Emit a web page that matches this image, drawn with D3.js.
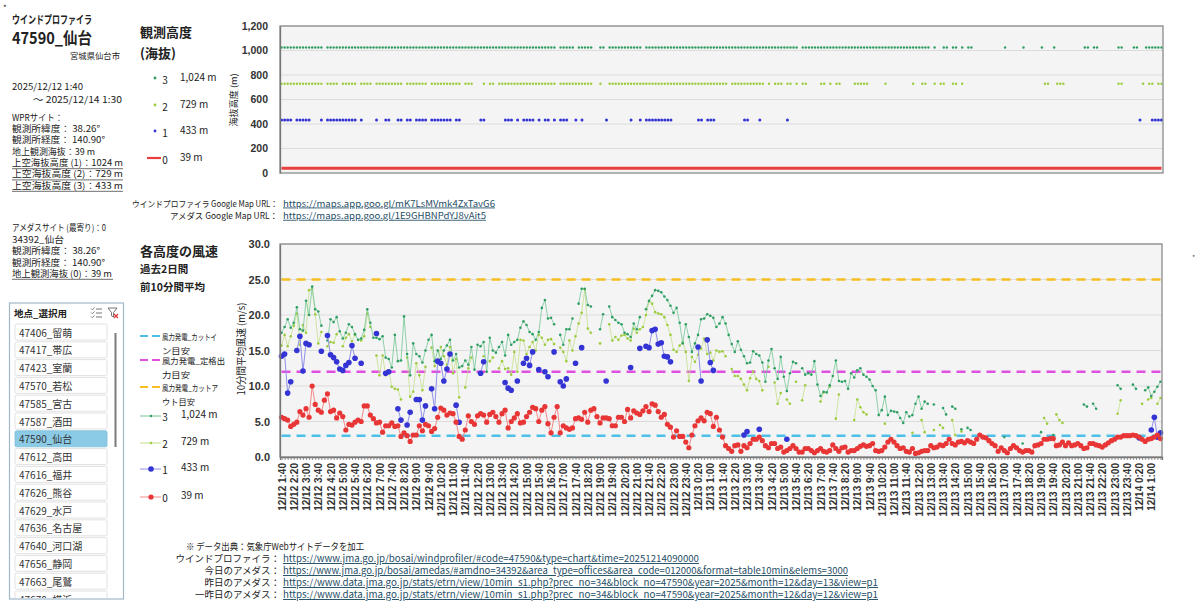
<!DOCTYPE html>
<html>
<head>
<meta charset="utf-8">
<script src="https://cdn.jsdelivr.net/npm/d3@7"></script>
<style>
body { margin: 0; background: #fff; }
svg { font-family: "Noto Sans CJK JP", "Noto Sans", sans-serif; }
</style>
</head>
<body>
<svg id="chart" width="1200" height="612"></svg>
<script>
var _ = null;

// 観測期間: 12/12 1:40 から10分毎
var startTime = [2025, 12, 12, 1, 40];

// 各高度の前10分間平均風速 (m/s)
var wind39 = [
5.6,5.4,5.2,4.3,4.6,4.9,6.4,5.9,6.8,5.6,
10.0,7.4,6.6,6.3,8.0,8.9,6.4,6.6,5.5,6.2,
5.7,3.8,4.6,4.5,4.9,5.2,5.0,7.2,7.2,5.9,
5.4,4.8,4.9,3.5,4.4,4.4,4.8,4.3,4.4,2.9,
3.4,3.0,2.2,3.1,3.1,4.4,3.7,4.6,4.4,3.6,
4.0,5.6,6.9,6.6,5.9,6.2,6.1,4.9,2.9,2.5,
3.8,5.8,5.0,4.6,5.8,6.1,5.9,4.9,6.0,6.3,
5.7,4.9,6.1,6.6,4.1,5.0,5.5,6.1,4.8,4.9,
5.7,6.3,7.0,6.8,5.0,6.6,7.1,4.7,3.4,5.6,
7.1,3.4,4.4,4.1,3.9,4.1,5.4,5.5,5.3,6.3,
4.9,6.6,6.8,5.7,4.8,5.5,5.5,5.4,4.4,4.4,
5.6,5.6,5.0,6.7,5.5,6.5,6.2,6.0,6.5,7.1,
6.4,7.5,7.3,6.4,5.6,6.0,4.6,4.2,2.8,3.7,
2.9,2.9,2.1,1.3,3.1,4.4,5.1,5.5,5.1,6.3,
6.1,4.3,5.6,3.8,2.8,1.6,1.2,0.8,1.6,1.7,
0.8,1.6,1.3,1.9,2.5,2.5,2.8,2.3,1.6,1.3,
1.9,1.9,1.2,1.4,0.7,0.9,1.2,1.6,1.2,0.7,
0.7,1.2,1.2,0.9,0.6,0.9,1.2,0.8,0.7,0.9,
1.7,1.2,0.8,1.3,1.4,0.7,0.9,0.9,1.2,1.5,
1.7,1.5,1.6,1.9,0.9,0.8,0.9,1.4,2.1,2.5,
2.1,1.6,1.2,1.3,0.8,0.7,1.2,0.5,0.6,0.8,
0.9,0.9,1.6,1.3,1.4,1.7,1.6,1.9,2.5,1.9,
1.7,2.1,2.2,2.0,2.3,2.1,1.9,2.5,3.1,2.8,
2.7,2.3,1.9,1.6,0.8,1.3,0.9,0.6,1.2,1.6,
1.3,0.9,0.7,0.9,0.9,0.7,1.6,1.7,1.9,2.5,
2.5,2.6,2.6,1.6,1.7,2.1,1.6,2.0,1.6,1.7,
1.9,1.6,1.2,1.3,1.9,1.9,1.7,1.6,1.4,1.7,
2.0,2.3,2.5,2.8,2.8,3.0,3.0,3.0,3.1,3.0,
2.8,2.5,2.2,2.5,2.6,2.8,3.1,2.6
];

var wind433 = [
14.2,14.5,9.0,10.6,_,15.0,17.0,12.1,16.0,15.8,
_,_,_,14.9,_,17.1,14.4,14.0,13.4,12.4,
12.2,12.9,13.3,15.7,13.9,_,13.2,_,_,_,
_,17.4,_,_,11.8,12.0,_,_,6.8,5.2,
_,4.5,6.3,_,8.1,8.1,5.2,7.2,_,9.6,
6.8,13.5,13.2,10.7,12.4,14.5,_,7.3,4.9,_,
_,_,_,_,_,11.8,13.4,_,_,_,
_,_,_,10.5,9.7,9.4,_,10.7,_,13.2,
13.9,12.9,14.8,_,12.3,_,12.0,11.3,_,14.8,
_,10.6,10.0,11.0,_,_,13.2,_,15.4,_,
_,_,_,_,_,_,10.7,_,_,_,
_,_,_,_,12.6,_,_,15.3,_,15.6,
15.4,17.8,18.0,15.9,16.1,14.2,14.1,13.4,_,_,
_,_,_,_,_,_,15.5,10.7,_,16.5,
13.3,12.2,_,_,_,_,_,_,_,_,
_,3.1,3.6,_,_,_,3.9,_,_,_,
_,_,_,_,_,2.5,_,_,_,_,
_,_,_,_,_,_,_,_,_,_,
_,_,_,_,_,_,_,_,_,_,
_,_,_,_,_,_,_,_,_,_,
_,_,_,_,_,_,_,_,_,_,
_,_,_,_,_,_,_,_,_,_,
_,_,_,_,_,_,_,_,_,_,
_,_,_,_,_,_,_,_,_,_,
_,_,_,_,_,_,_,_,_,_,
_,_,_,_,_,_,_,_,_,_,
_,_,_,_,_,_,_,_,_,_,
_,_,_,_,_,_,_,_,_,_,
2.7,_,_,_,3.8,5.6,2.8,3.4
];

var wind729 = [
15.7,17.2,15.6,17.0,18.5,20.2,15.8,18.6,17.5,23.5,
23.7,20.1,16.0,17.6,_,15.6,16.2,16.1,17.3,_,
15.6,16.8,17.3,16.3,17.2,_,16.4,17.0,20.2,18.3,
_,14.3,11.5,14.3,11.5,12.2,9.9,9.6,9.5,8.1,
_,14.0,8.5,9.2,13.2,11.5,9.4,12.7,_,15.4,
12.8,13.5,15.5,14.2,13.0,15.5,11.8,13.8,8.4,_,
9.8,12.5,14.0,_,_,_,14.2,_,13.5,14.0,
_,12.5,13.5,12.4,12.5,11.6,14.8,12.0,16.5,16.4,
14.5,15.5,16.2,15.0,17.2,16.8,15.8,16.5,16.6,15.9,
_,15.4,14.8,13.5,16.4,15.0,17.0,18.8,20.3,23.6,
18.1,17.5,_,_,16.0,_,_,18.7,16.4,16.9,
16.5,17.1,17.2,16.7,16.4,18.1,17.5,18.0,18.3,20.0,
21.9,21.6,20.4,20.2,20.1,19.7,18.6,17.2,15.1,14.8,
15.7,16.2,14.8,10.7,14.1,13.4,14.4,15.3,16.7,14.5,
14.7,13.6,15.0,14.8,14.9,14.2,_,12.4,11.4,11.4,
11.0,10.2,9.4,11.1,12.0,11.0,10.7,9.4,_,12.7,
_,10.5,7.5,9.0,_,8.1,7.5,_,10.6,_,
8.0,10.1,_,_,_,_,7.8,9.1,_,9.9,
_,5.4,8.8,_,_,_,_,5.2,8.1,7.0,
6.3,6.0,_,_,_,_,_,4.7,_,_,
_,_,_,_,_,_,3.4,_,_,5.2,
3.5,_,_,3.8,_,4.5,4.1,_,_,5.2,
3.1,_,3.6,_,_,_,_,_,_,_,
_,_,_,_,_,_,_,_,_,_,
_,_,_,_,_,_,_,_,_,5.5,
4.7,_,_,6.0,5.2,4.8,_,_,_,_,
_,_,_,_,_,_,_,_,_,_,
_,_,_,6.1,8.0,_,_,_,_,_,
_,7.5,_,8.1,8.3,_,7.5,8.3
];

var wind1024 = [
17.5,18.3,19.4,18.2,18.9,21.1,18.0,17.8,22.0,20.0,
24.0,20.8,20.5,18.5,_,16.4,19.4,19.0,19.7,17.7,
16.7,17.5,18.7,18.3,17.3,16.5,16.7,17.9,20.8,18.9,
16.8,16.8,16.6,17.0,14.0,13.8,12.6,17.2,13.5,13.6,
19.8,14.5,11.5,16.0,14.5,14.2,13.3,15.0,16.5,17.2,
13.5,15.0,13.8,15.0,15.7,16.5,13.6,14.5,12.6,12.8,
13.6,13.0,15.5,12.3,15.8,15.6,16.2,12.0,16.8,15.0,
14.7,15.5,16.2,14.3,17.2,15.8,16.2,16.5,18.2,19.1,
18.6,17.6,17.3,16.5,17.6,21.0,22.1,19.5,19.6,18.7,
_,17.2,15.8,18.0,18.0,19.5,_,21.6,23.7,23.7,
21.4,21.2,_,_,18.0,20.1,_,21.2,19.7,19.3,
18.9,18.7,17.5,17.3,16.9,18.8,18.0,19.7,_,20.8,
22.0,22.7,23.5,23.4,23.2,22.6,22.1,21.3,20.3,21.0,
18.9,16.0,18.7,16.9,14.8,16.0,17.2,19.4,19.5,20.1,
19.9,19.6,18.3,18.8,19.7,18.8,17.2,15.9,14.8,16.3,
15.1,14.2,13.2,13.3,14.9,14.5,14.3,13.3,10.6,13.6,
15.2,12.5,11.0,14.1,11.3,9.3,11.8,13.4,13.2,_,
12.5,11.6,11.8,11.6,13.5,10.2,8.6,9.2,9.1,10.1,
11.4,13.6,10.7,10.6,10.7,9.6,11.8,11.2,12.2,12.5,
11.6,11.3,10.9,10.0,9.4,5.9,6.6,8.5,5.9,6.5,
6.4,6.3,5.5,4.8,6.3,5.7,5.9,7.5,8.5,6.8,
7.8,7.5,_,7.4,_,_,6.9,6.0,_,7.1,
6.8,_,3.9,_,4.1,3.8,_,_,_,_,
_,_,_,_,_,_,2.8,_,_,_,
_,_,1.9,_,_,_,_,_,3.5,_,
_,_,3.1,_,_,_,_,_,_,_,
_,_,7.4,7.1,_,7.5,6.8,_,_,_,
_,_,_,10.1,9.6,_,_,_,10.2,9.6,
_,_,9.4,9.8,8.6,9.2,9.9,10.6
];

// 観測高度 (海抜 m)
var heightNames = ["3", "2", "1", "0"];
var heights = [1024, 729, 433, 39];

// 風力発電の目安 (m/s)
var refLabels = [["風力発電_カットイ", "ン目安"], ["風力発電_定格出", "力目安"], ["風力発電_カットア", "ウト目安"]];
var refValues = [3, 12, 25];

var stations = ["47406_留萌", "47417_帯広", "47423_室蘭", "47570_若松", "47585_宮古", "47587_酒田", "47590_仙台",
  "47612_高田", "47616_福井", "47626_熊谷", "47629_水戸", "47636_名古屋", "47640_河口湖", "47656_静岡", "47663_尾鷲", "47670_横浜"];
var selectedStation = "47590_仙台";

var siteInfo = ["WPRサイト：", "観測所緯度： 38.26°", "観測所経度： 140.90°", "地上観測海抜：39 m",
  "上空海抜高度 (1)：1024 m", "上空海抜高度 (2)：729 m", "上空海抜高度 (3)：433 m"];
var amedasInfo = ["アメダスサイト (最寄り)：0", "34392_仙台", "観測所緯度： 38.26°", "観測所経度： 140.90°", "地上観測海抜 (0)：39 m"];

var mapLabels = ["ウインドプロファイラ Google Map URL：", "アメダス Google Map URL："];
var mapUrls = ["https://maps.app.goo.gl/mK7LsMVmk4ZxTavG6", "https://maps.app.goo.gl/1E9GHBNPdYJ8vAit5"];

var sourceLabels = ["ウインドプロファイラ：", "今日のアメダス：", "昨日のアメダス：", "一昨日のアメダス："];
var sourceUrls = [
  "https://www.jma.go.jp/bosai/windprofiler/#code=47590&type=chart&time=20251214090000",
  "https://www.jma.go.jp/bosai/amedas/#amdno=34392&area_type=offices&area_code=012000&format=table10min&elems=3000",
  "https://www.data.jma.go.jp/stats/etrn/view/10min_s1.php?prec_no=34&block_no=47590&year=2025&month=12&day=13&view=p1",
  "https://www.data.jma.go.jp/stats/etrn/view/10min_s1.php?prec_no=34&block_no=47590&year=2025&month=12&day=12&view=p1"
];

var svg = d3.select("#chart");
var NUM = '"Liberation Sans", Arial, sans-serif';

function txt(x, y, s, o) {
  o = o || {};
  var t = svg.append("text").attr("x", x).attr("y", y).text(s)
    .attr("dominant-baseline", "central")
    .attr("font-size", o.size || 9.5)
    .attr("fill", o.fill || "#222");
  if (o.bold) t.attr("font-weight", "bold");
  if (o.anchor) t.attr("text-anchor", o.anchor);
  if (o.w) t.attr("textLength", o.w).attr("lengthAdjust", "spacingAndGlyphs");
  if (o.family) t.attr("font-family", o.family);
  if (o.under) t.attr("text-decoration", "underline");
  return t;
}

// 時刻カテゴリ
var t0 = new Date(startTime[0], startTime[1] - 1, startTime[2], startTime[3], startTime[4]);
var times = wind39.map(function(d, i) { return new Date(t0.getTime() + i * 600000); });
var fmtTime = function(d) {
  return (d.getMonth() + 1) + "/" + d.getDate() + " " + d.getHours() + ":" + String(d.getMinutes()).padStart(2, "0");
};
var idx = d3.range(wind39.length);

var series = [
  {v: wind729, line: "#c4df8a", dot: "#9ccb3e", r: 1.3, lw: 0.8},
  {v: wind1024, line: "#72c796", dot: "#2f9e62", r: 1.3, lw: 0.8},
  {v: wind433, line: "#9090ea", dot: "#3434d4", r: 2.8, lw: 1},
  {v: wind39, line: "#f28a8a", dot: "#e83636", r: 2.6, lw: 1}
];
// heights順 (3,2,1,0) → series 参照
var byHeight = [series[1], series[0], series[2], series[3]];
var refColors = ["#4dc0e8", "#e050e0", "#f6be22"];

// ---------- 左サイドバー ----------
txt(3, 7, "*", {size: 8});
txt(12, 19, "ウインドプロファイラ", {size: 11, bold: true, w: 80});
txt(12, 37, "47590_仙台", {size: 16, bold: true, w: 80});
txt(120, 55, "宮城県仙台市", {size: 8.5, anchor: "end", w: 50});
txt(12, 86.5, "2025/12/12 1:40", {size: 9, w: 71});
txt(33, 99, "～ 2025/12/14 1:30", {size: 9, w: 89});

var infoY = [117.5, 128.5, 139.5, 151, 162.3, 173.5, 185];
var infoW = [51, 88, 93, 83, 111, 111, 111];
siteInfo.forEach(function(s, i) {
  txt(12, infoY[i], s, {size: 9, w: infoW[i]});
  if (i >= 4) {
    svg.append("line").attr("x1", 12).attr("x2", 123).attr("y1", infoY[i] + 6.3).attr("y2", infoY[i] + 6.3)
      .attr("stroke", "#8a8a8a").attr("stroke-width", 1.3);
  }
});
var amY = [227, 239, 250, 262, 273];
var amW = [94, 52, 88, 93, 100];
amedasInfo.forEach(function(s, i) {
  txt(12, amY[i], s, {size: 9, w: amW[i]});
  if (i === 4) {
    svg.append("line").attr("x1", 12).attr("x2", 113).attr("y1", amY[i] + 6.3).attr("y2", amY[i] + 6.3)
      .attr("stroke", "#8a8a8a").attr("stroke-width", 1.3);
  }
});

// スライサー
svg.append("rect").attr("x", 9.5).attr("y", 303).attr("width", 114).attr("height", 296)
  .attr("fill", "#fff").attr("stroke", "#9fb8c8").attr("stroke-width", 1.2);
txt(14, 313, "地点_選択用", {size: 9.5, bold: true});
[309, 313, 317].forEach(function(y) {
  svg.append("line").attr("x1", 96).attr("x2", 102).attr("y1", y).attr("y2", y).attr("stroke", "#666").attr("stroke-width", 0.9);
  svg.append("path").attr("d", "M91," + (y - 0.5) + " l1.3,1.3 l2.2,-2.4").attr("fill", "none").attr("stroke", "#666").attr("stroke-width", 0.8);
});
svg.append("path").attr("d", "M108,308 h9 l-3.5,4.5 v4.5 l-2,-1.2 v-3.3 z").attr("fill", "none").attr("stroke", "#666").attr("stroke-width", 0.9);
svg.append("path").attr("d", "M114,314 l4,4 M118,314 l-4,4").attr("stroke", "#d33").attr("stroke-width", 1.1);

svg.append("clipPath").attr("id", "slicerClip").append("rect").attr("x", 10).attr("y", 304).attr("width", 112).attr("height", 294);
var slicer = svg.append("g").attr("clip-path", "url(#slicerClip)");
stations.forEach(function(s, i) {
  var cy = 332 + i * 17.8;
  var sel = s === selectedStation;
  slicer.append("rect").attr("x", 15).attr("y", cy - 8).attr("width", 92).attr("height", 16).attr("rx", 1.5)
    .attr("fill", sel ? "#8ccbe6" : "#fff").attr("stroke", sel ? "#7bbcd8" : "#d9d9d9").attr("stroke-width", 0.8);
  slicer.append("text").attr("x", 19).attr("y", cy).attr("dominant-baseline", "central")
    .attr("font-size", 10).attr("fill", "#333").text(s);
});
svg.append("line").attr("x1", 115.5).attr("x2", 115.5).attr("y1", 333).attr("y2", 447)
  .attr("stroke", "#7a7a7a").attr("stroke-width", 2);

// ---------- 観測高度 (上段) ----------
txt(140, 31, "観測高度", {size: 13, bold: true});
txt(140, 52, "(海抜)", {size: 13, bold: true});
var topLegY = [78, 105, 131, 158];
heights.forEach(function(h, i) {
  var y = topLegY[i];
  var s = byHeight[i];
  if (i < 3) {
    svg.append("circle").attr("cx", 155).attr("cy", y).attr("r", 1.4).attr("fill", s.dot);
  } else {
    svg.append("line").attr("x1", 147).attr("x2", 161).attr("y1", y).attr("y2", y).attr("stroke", "#e8403f").attr("stroke-width", 2.2);
  }
  txt(165, y + 1, heightNames[i], {size: 10, anchor: "middle"});
  txt(180, y - 2, d3.format(",")(h) + " m", {size: 10});
});

var topBox = {l: 280, r: 1163, t: 26, b: 173};
var xTop = d3.scalePoint().domain(idx).range([topBox.l, topBox.r]).padding(0.5);
var yTop = d3.scaleLinear().domain([0, 1200]).range([topBox.b, topBox.t]);

svg.append("rect").attr("x", topBox.l).attr("y", topBox.t).attr("width", topBox.r - topBox.l)
  .attr("height", topBox.b - topBox.t).attr("fill", "#f4f4f4");
svg.append("g").selectAll("line").data(yTop.ticks(6).slice(1)).enter().append("line")
  .attr("x1", topBox.l).attr("x2", topBox.r).attr("y1", yTop).attr("y2", yTop)
  .attr("stroke", "#dcdcdc").attr("stroke-width", 1);

// 観測データが存在する時刻に点
byHeight.forEach(function(s, i) {
  var h = heights[i];
  if (i === 3) {
    svg.append("path").datum(idx.filter(function(j) { return s.v[j] != null; }))
      .attr("d", d3.line().x(function(j) { return xTop(j); }).y(function() { return yTop(h); }))
      .attr("stroke", "#e8403f").attr("stroke-width", 3).attr("fill", "none");
  } else {
    svg.append("g").selectAll("circle").data(idx.filter(function(j) { return s.v[j] != null; })).enter()
      .append("circle").attr("cx", function(j) { return xTop(j); }).attr("cy", yTop(h))
      .attr("r", i === 2 ? 1.5 : 1.2).attr("fill", s.dot);
  }
});
svg.append("rect").attr("x", topBox.l).attr("y", topBox.t).attr("width", topBox.r - topBox.l)
  .attr("height", topBox.b - topBox.t).attr("fill", "none").attr("stroke", "#8c8c8c").attr("stroke-width", 1.3);

var yTopAxis = svg.append("g").attr("transform", "translate(" + topBox.l + ",0)")
  .call(d3.axisLeft(yTop).ticks(6).tickFormat(d3.format(",")).tickSize(0).tickPadding(12));
yTopAxis.select(".domain").attr("stroke", "#777").attr("stroke-width", 1.3);
yTopAxis.selectAll("text").attr("font-family", NUM).attr("font-weight", "bold").attr("font-size", 10.5).attr("fill", "#333");
txt(0, 0, "海抜高度 (m)", {size: 9, anchor: "middle", w: 53}).attr("transform", "translate(233,100) rotate(-90)");

// Google Map URL
mapLabels.forEach(function(s, i) {
  var y = 202.5 + i * 12.3;
  txt(278, y, s, {size: 8.5, anchor: "end", w: i === 0 ? 146 : 108});
  txt(283, y, mapUrls[i], {size: 8.5, fill: "#1f4e66", under: true, w: i === 0 ? 212 : 203});
});

// ---------- 各高度の風速 (下段) ----------
txt(140, 250, "各高度の風速", {size: 13, bold: true});
txt(140, 268, "過去2日間", {size: 10.5, bold: true});
txt(140, 286, "前10分間平均", {size: 10.5, bold: true});

var refLegY = [336, 360, 387];
var refW = [55, 63, 56];
var refW2 = [28, 28, 33];
refLabels.forEach(function(lab, i) {
  svg.append("line").attr("x1", 140).attr("x2", 161).attr("y1", refLegY[i]).attr("y2", refLegY[i])
    .attr("stroke", refColors[i]).attr("stroke-width", 2.2).attr("stroke-dasharray", "8,4");
  txt(162, refLegY[i], lab[0], {size: 8.5, w: refW[i]});
  txt(162, refLegY[i] + 14, lab[1], {size: 8.5, w: refW2[i]});
});
var serLegY = [416, 443, 469, 497];
heights.forEach(function(h, i) {
  var y = serLegY[i];
  var s = byHeight[i];
  svg.append("line").attr("x1", 140).attr("x2", 161).attr("y1", y).attr("y2", y).attr("stroke", s.line).attr("stroke-width", 1);
  svg.append("circle").attr("cx", 151).attr("cy", y).attr("r", s.r).attr("fill", s.dot);
  txt(165, y, heightNames[i], {size: 10, anchor: "middle"});
  txt(181, y - 2.5, d3.format(",")(h) + " m", {size: 10});
});

var wBox = {l: 280, r: 1162, t: 244, b: 457};
var x = d3.scalePoint().domain(idx).range([wBox.l, wBox.r]).padding(0.5);
var y = d3.scaleLinear().domain([0, 30]).range([wBox.b, wBox.t]);

svg.append("rect").attr("x", wBox.l).attr("y", wBox.t).attr("width", wBox.r - wBox.l)
  .attr("height", wBox.b - wBox.t).attr("fill", "#f4f4f4");
svg.append("g").selectAll("line").data(y.ticks(6).slice(1)).enter().append("line")
  .attr("x1", wBox.l).attr("x2", wBox.r).attr("y1", y).attr("y2", y)
  .attr("stroke", "#dcdcdc").attr("stroke-width", 1);

// 目安ライン
refValues.forEach(function(v, i) {
  svg.append("line").attr("x1", x(0)).attr("x2", x(idx.length - 1)).attr("y1", y(v)).attr("y2", y(v))
    .attr("stroke", refColors[i]).attr("stroke-width", 2.6).attr("stroke-dasharray", "9,6");
});

series.forEach(function(s) {
  var line = d3.line().defined(function(j) { return s.v[j] != null; })
    .x(function(j) { return x(j); }).y(function(j) { return y(s.v[j]); });
  svg.append("path").datum(idx).attr("d", line).attr("fill", "none")
    .attr("stroke", s.line).attr("stroke-width", s.lw);
  svg.append("g").selectAll("circle").data(idx.filter(function(j) { return s.v[j] != null; })).enter()
    .append("circle").attr("cx", function(j) { return x(j); }).attr("cy", function(j) { return y(s.v[j]); })
    .attr("r", s.r).attr("fill", s.dot);
});

svg.append("rect").attr("x", wBox.l).attr("y", wBox.t).attr("width", wBox.r - wBox.l)
  .attr("height", wBox.b - wBox.t).attr("fill", "none").attr("stroke", "#8c8c8c").attr("stroke-width", 1.3);

var yAxis = svg.append("g").attr("transform", "translate(" + wBox.l + ",0)")
  .call(d3.axisLeft(y).ticks(6).tickFormat(d3.format(".1f")).tickSize(0).tickPadding(10));
yAxis.select(".domain").attr("stroke", "#777").attr("stroke-width", 1.3);
yAxis.selectAll("text").attr("font-family", NUM).attr("font-weight", "bold").attr("font-size", 11).attr("fill", "#333");

var xAxis = svg.append("g").attr("transform", "translate(0," + wBox.b + ")")
  .call(d3.axisBottom(x).tickSize(3).tickFormat(function(j) { return j % 4 === 0 ? fmtTime(times[j]) : ""; }));
xAxis.select(".domain").attr("stroke", "#777").attr("stroke-width", 1.3);
xAxis.selectAll(".tick line").attr("stroke", "#777").attr("stroke-width", 0.8);
xAxis.selectAll("text").attr("font-family", NUM).attr("font-weight", "bold").attr("font-size", 10).attr("fill", "#333")
  .attr("y", 0).attr("x", -6).attr("dy", "0.35em").attr("transform", "rotate(-90)").style("text-anchor", "end");

txt(0, 0, "10分間平均風速 (m/s)", {size: 10, anchor: "middle", w: 93}).attr("transform", "translate(240,349) rotate(-90)");
txt(1192, 257, "*", {size: 7, fill: "#555"});

// ---------- データ出典 ----------
txt(186, 546, "※ データ出典：気象庁Webサイトデータを加工", {size: 9.5, w: 178});
var srcW = [416, 565, 595, 595];
sourceLabels.forEach(function(s, i) {
  var yy = 558 + i * 12;
  txt(280, yy, s, {size: 9.5, anchor: "end"});
  txt(283, yy, sourceUrls[i], {size: 9.5, fill: "#1f4e66", under: true, w: srcW[i]});
});
</script>
</body>
</html>
